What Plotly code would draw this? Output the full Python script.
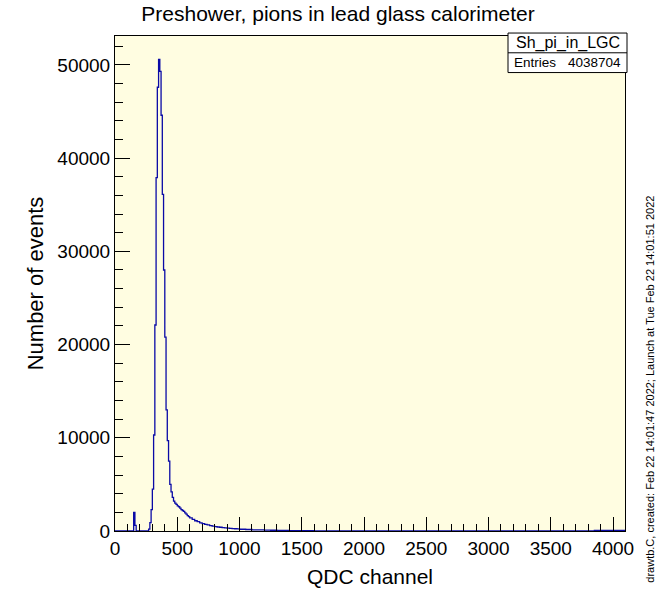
import plotly.graph_objects as go

# ---- data: histogram bin left edges (QDC channel) and bin contents ----
bin_edges = [0, 140, 150, 160, 170, 270, 280, 290, 300, 310, 320, 330, 340, 350,
             360, 370, 380, 390, 400, 410, 420, 430, 440, 450, 460, 470, 480,
             490, 500, 510, 520, 530, 540, 550, 560, 570, 580, 590,
             600, 620, 640, 660, 680, 700, 720, 740, 760, 780, 800, 820, 840,
             860, 880, 900, 920, 940, 960, 980,
             1000, 1050, 1100, 1150, 1200, 1250, 1300, 1350, 1400, 1450, 1500,
             1550, 1600, 1650, 1700, 3850, 4096]
counts = [0, 0, 2000, 600, 0, 200, 900, 2300, 4500, 10300, 22100, 37900, 47600, 50600,
          49300, 44600, 36100, 28000, 20800, 13000, 9700, 7500, 5000, 4200, 3600, 3200, 3000,
          2850, 2700, 2600, 2450, 2300, 2200, 2100, 1950, 1800, 1650, 1550,
          1400, 1250, 1100, 1000, 880, 800, 720, 650, 580, 520, 470, 430, 400,
          360, 330, 300, 280, 260, 240, 220,
          190, 160, 130, 110, 95, 80, 70, 60, 50, 45, 40,
          30, 20, 10, 0, 60]

x_ticks = [0, 500, 1000, 1500, 2000, 2500, 3000, 3500, 4000]
y_ticks = [0, 10000, 20000, 30000, 40000, 50000]

title_text = "Preshower, pions in lead glass calorimeter"
x_title = "QDC channel"
y_title = "Number of events"
stats_name = "Sh_pi_in_LGC"
stats_entries = "4038704"
side_note = "drawtb.C, created: Feb 22 14:01:47 2022; Launch at Tue Feb 22 14:01:51 2022"

# ---- figure ----
W, H = 657, 596
L, R, T, B = 115, 625, 36, 537   # plot-frame edges in pixels

def px(xp):
    return (xp - L) / (R - L)

def py(yp):
    return (B - yp) / (B - T)

FONT = "Liberation Sans, Arial, Helvetica, sans-serif"

fig = go.Figure()
fig.add_trace(go.Scatter(
    x=bin_edges,
    y=counts + [counts[-1]],
    mode="lines",
    line=dict(shape="hv", color="#0a0aa6", width=1.3),
    hoverinfo="skip",
    showlegend=False,
))

fig.update_layout(
    width=W, height=H,
    margin=dict(l=L, r=W - R, t=T, b=H - B, pad=0),
    paper_bgcolor="white",
    plot_bgcolor="#fffde1",
    font=dict(family=FONT, color="black"),
    title=dict(text=title_text, x=338 / W, xref="container", xanchor="center",
               y=1 - 14 / H, yref="container", yanchor="middle",
               font=dict(size=21, family=FONT, color="black")),
    xaxis=dict(
        range=[0, 4096], tickmode="array", tickvals=x_ticks,
        ticktext=[str(v) for v in x_ticks],
        ticks="inside", ticklen=14, tickwidth=1, tickcolor="black",
        minor=dict(dtick=100, tick0=0, ticks="inside", ticklen=7, tickcolor="black", tickwidth=1),
        showline=True, linecolor="black", linewidth=1, mirror=True,
        showgrid=False, zeroline=False,
        tickfont=dict(size=19, family=FONT, color="black"),
        title=dict(text=x_title, font=dict(size=21, family=FONT, color="black"), standoff=11),
    ),
    yaxis=dict(
        range=[0, 53100], tickmode="array", tickvals=y_ticks,
        ticktext=[str(v) for v in y_ticks],
        ticks="inside", ticklen=15, tickwidth=1, tickcolor="black",
        minor=dict(dtick=2000, tick0=0, ticks="inside", ticklen=8, tickcolor="black", tickwidth=1),
        showline=True, linecolor="black", linewidth=1, mirror=True,
        showgrid=False, zeroline=False,
        tickfont=dict(size=19, family=FONT, color="black"),
        title=dict(text=y_title, font=dict(size=22, family=FONT, color="black"), standoff=7),
    ),
)

# stats box
bx0, bx1, by0, by1, bmid = 508, 627, 33, 73, 53
fig.add_shape(type="rect", xref="paper", yref="paper",
              x0=px(bx0), x1=px(bx1), y0=py(by1), y1=py(by0),
              line=dict(color="black", width=1), fillcolor="white", layer="above")
fig.add_shape(type="line", xref="paper", yref="paper",
              x0=px(bx0), x1=px(bx1), y0=py(bmid), y1=py(bmid),
              line=dict(color="black", width=1), layer="above")
fig.add_annotation(xref="paper", yref="paper", x=px((bx0 + bx1) / 2), y=py((by0 + bmid) / 2),
                   text=stats_name, showarrow=False, xanchor="center", yanchor="middle",
                   font=dict(size=16, family=FONT, color="black"))
fig.add_annotation(xref="paper", yref="paper", x=px(bx0 + 4), y=py((bmid + by1) / 2),
                   text="Entries", showarrow=False, xanchor="left", yanchor="middle",
                   font=dict(size=13.5, family=FONT, color="black"))
fig.add_annotation(xref="paper", yref="paper", x=px(bx1 - 4), y=py((bmid + by1) / 2),
                   text=stats_entries, showarrow=False, xanchor="right", yanchor="middle",
                   font=dict(size=13.5, family=FONT, color="black"))

# side note (vertical)
fig.add_annotation(xref="paper", yref="paper", x=px(650), y=py(394),
                   text=side_note, showarrow=False, textangle=-90,
                   xanchor="center", yanchor="middle",
                   font=dict(size=11, family=FONT, color="black"))

# remove the default 8px page-body margin so the figure sits at the window origin
fig.write_html("out.html", config={"displayModeBar": False},
               post_script="document.body.style.margin='0px';")
